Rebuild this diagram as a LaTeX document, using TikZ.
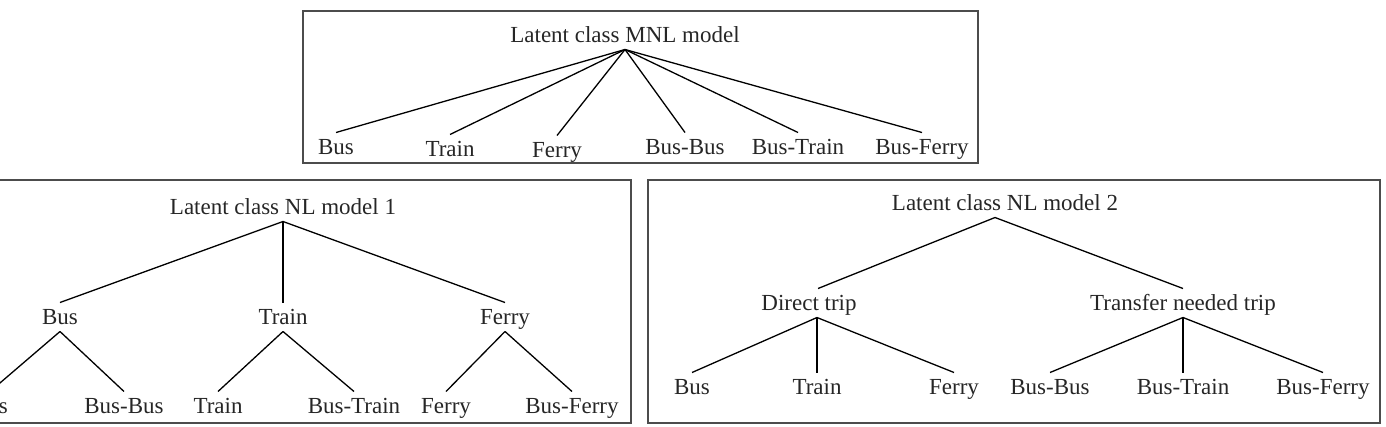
\documentclass[tikz,border=0pt]{standalone}
\usepackage{fontspec}
\setmainfont{Liberation Serif}
\begin{document}
\begin{tikzpicture}[x=1pt,y=-1pt,
    lbl/.style={inner sep=3pt,outer sep=0pt,text height=19pt,text depth=4pt,
      font=\fontsize{23}{27}\selectfont,text=black!85},
    frame/.style={draw=black!70,line width=1.6pt},
    branch/.style={line width=1.3pt}]
  \useasboundingbox (0,0) rectangle (1386,426);
  \clip (0,0) rectangle (1386,426);
  % top: MNL
  \draw[frame] (303,11) rectangle (978,163);
  \node[lbl] (m) at (625,35) {Latent class MNL model};
  \node[lbl] (m1) at (336,147) {Bus};
  \node[lbl] (m2) at (450,149) {Train};
  \node[lbl] (m3) at (557,150) {Ferry};
  \node[lbl] (m4) at (685,147) {Bus-Bus};
  \node[lbl] (m5) at (798,147) {Bus-Train};
  \node[lbl] (m6) at (922,147) {Bus-Ferry};
  \foreach \i in {1,...,6}
    \draw[branch] (m.south) to (m\i.north);
  % lower left: NL model 1
  \draw[frame] (-5,180) rectangle (631,423);
  \node[lbl] (n) at (283,207) {Latent class NL model 1};
  \node[lbl] (n1) at (60,317) {Bus};
  \node[lbl] (n2) at (283,317) {Train};
  \node[lbl] (n3) at (505,317) {Ferry};
  \node[lbl] (n11) at (-10,406) {Bus};
  \node[lbl] (n12) at (124,406) {Bus-Bus};
  \node[lbl] (n21) at (218,406) {Train};
  \node[lbl] (n22) at (354,406) {Bus-Train};
  \node[lbl] (n31) at (446,406) {Ferry};
  \node[lbl] (n32) at (572,406) {Bus-Ferry};
  \foreach \i in {1,2,3} {
    \draw[branch] (n.south) to (n\i.north);
    \draw[branch] (n\i.south) to (n\i1.north);
    \draw[branch] (n\i.south) to (n\i2.north);
  }
  % lower right: NL model 2
  \draw[frame] (648,180) rectangle (1380,423);
  \node[lbl] (r) at (1005,203) {Latent class NL model 2};
  \node[lbl] (r1) at (809,303) {Direct trip};
  \node[lbl] (r2) at (1183,303) {Transfer needed trip};
  \node[lbl] (r11) at (692,387) {Bus};
  \node[lbl] (r12) at (817,387) {Train};
  \node[lbl] (r13) at (954,387) {Ferry};
  \node[lbl] (r21) at (1050,387) {Bus-Bus};
  \node[lbl] (r22) at (1183,387) {Bus-Train};
  \node[lbl] (r23) at (1323,387) {Bus-Ferry};
  \draw[branch] ([xshift=-10pt]r.south) to ([xshift=9pt]r1.north);
  \draw[branch] ([xshift=-10pt]r.south) to (r2.north);
  \foreach \j in {1,2,3} {
    \draw[branch] ([xshift=8pt]r1.south) to (r1\j.north);
    \draw[branch] (r2.south) to (r2\j.north);
  }
\end{tikzpicture}
\end{document}
